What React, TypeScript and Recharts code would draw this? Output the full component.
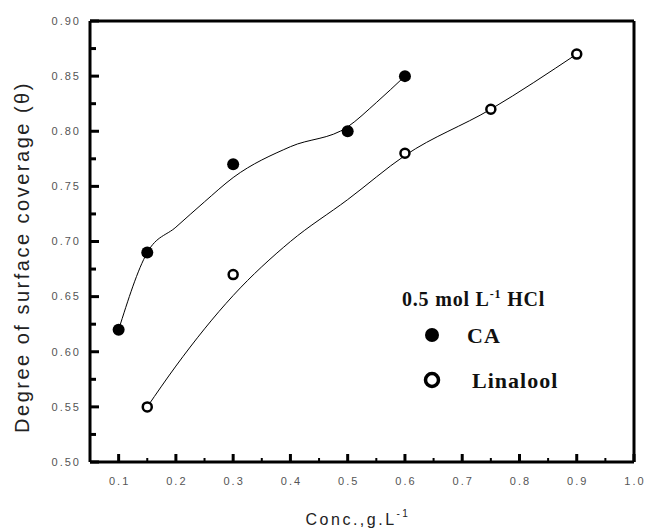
import React from "react";
import {
  ComposedChart,
  Line,
  Scatter,
  XAxis,
  YAxis,
  ReferenceLine,
  Legend
} from "recharts";

// measured points
const caPoints = [
  { x: 0.1, y: 0.62 },
  { x: 0.15, y: 0.69 },
  { x: 0.3, y: 0.77 },
  { x: 0.5, y: 0.8 },
  { x: 0.6, y: 0.85 }
];

const linaloolPoints = [
  { x: 0.15, y: 0.55 },
  { x: 0.3, y: 0.67 },
  { x: 0.6, y: 0.78 },
  { x: 0.75, y: 0.82 },
  { x: 0.9, y: 0.87 }
];

// fitted curves
const caFit = [
  { x: 0.1, y: 0.62 },
  { x: 0.15, y: 0.69 },
  { x: 0.2, y: 0.713 },
  { x: 0.25, y: 0.736 },
  { x: 0.3, y: 0.758 },
  { x: 0.4, y: 0.786 },
  { x: 0.5, y: 0.804 },
  { x: 0.55, y: 0.826 },
  { x: 0.6, y: 0.85 }
];

const linaloolFit = [
  { x: 0.15, y: 0.55 },
  { x: 0.2, y: 0.587 },
  { x: 0.3, y: 0.651 },
  { x: 0.4, y: 0.7 },
  { x: 0.5, y: 0.738 },
  { x: 0.6, y: 0.778 },
  { x: 0.75, y: 0.82 },
  { x: 0.9, y: 0.87 }
];

const xTicks = [0.1, 0.15, 0.2, 0.25, 0.3, 0.35, 0.4, 0.45, 0.5, 0.55, 0.6, 0.65, 0.7, 0.75, 0.8, 0.85, 0.9, 0.95, 1.0];
const yTicks = [0.5, 0.525, 0.55, 0.575, 0.6, 0.625, 0.65, 0.675, 0.7, 0.725, 0.75, 0.775, 0.8, 0.825, 0.85, 0.875, 0.9];

const tickFont = { fontFamily: "Liberation Sans, Arial, sans-serif", fontSize: 11, fill: "#555", letterSpacing: 2 };

// inward ticks, labels only on the major ones
function XTick(props: any) {
  const { x, y, payload } = props;
  const v = payload.value;
  const major = Math.round(v * 100) % 10 === 0;
  return (
    <g>
      <path d={`M${x},${y}V${y - (major ? 8 : 4)}`} style={{ stroke: "#000", strokeWidth: major ? 3 : 2 }} />
      {major && (
        <text x={x + 1} y={y + 23} textAnchor="middle" {...tickFont}>
          {v.toFixed(1)}
        </text>
      )}
    </g>
  );
}

function YTick(props: any) {
  const { x, y, payload } = props;
  const v = payload.value;
  const major = Math.round(v * 1000) % 50 === 0;
  return (
    <g>
      <path d={`M${x},${y}H${x + (major ? 9 : 6)}`} style={{ stroke: "#000", strokeWidth: 3 }} />
      {major && (
        <text x={x - 9} y={y} dy="0.35em" textAnchor="end" {...tickFont}>
          {v.toFixed(2)}
        </text>
      )}
    </g>
  );
}

const FilledDot = (props: any) => <circle cx={props.cx} cy={props.cy} r={6} fill="#000" />;
const OpenDot = (props: any) => (
  <circle cx={props.cx} cy={props.cy} r={4.5} fill="#fff" stroke="#000" strokeWidth={2.5} />
);

function LegendBox() {
  const serif = { fontFamily: "Liberation Serif, Times New Roman, serif", fontWeight: 700, fill: "#111" };
  return (
    <svg width={220} height={120}>
      <text x={7} y={26} fontSize={20} letterSpacing={0.8} {...serif}>
        0.5 mol L<tspan dy={-8} fontSize={12}>-1</tspan>
        <tspan dy={8}> HCl</tspan>
      </text>
      <circle cx={37} cy={55} r={7} fill="#000" />
      <text x={72} y={63} fontSize={22} letterSpacing={1} {...serif}>CA</text>
      <circle cx={37} cy={100} r={6.5} fill="#fff" stroke="#000" strokeWidth={3.5} />
      <text x={77} y={108} fontSize={22} letterSpacing={1} {...serif}>Linalool</text>
    </svg>
  );
}

export default function App() {
  return (
    <div style={{ position: "absolute", left: 0, top: 0, background: "#fff" }}>
      <ComposedChart width={647} height={530} margin={{ top: 21, right: 13, bottom: 0, left: 0 }}>
        <XAxis
          type="number"
          dataKey="x"
          domain={[0.05, 1.0]}
          ticks={xTicks}
          allowDataOverflow
          interval={0}
          height={68}
          tickSize={0}
          tickMargin={0}
          tickLine={false}
          axisLine={{ stroke: "#000", strokeWidth: 3 }}
          tick={<XTick />}
          label={{
            content: () => (
              <text
                x={358}
                y={525}
                textAnchor="middle"
                fontFamily="Liberation Sans, Arial, sans-serif"
                fontSize={16}
                letterSpacing={2.5}
                fill="#222"
              >
                Conc.,g.L<tspan dy={-8} fontSize={10}>-1</tspan>
              </text>
            )
          }}
        />
        <YAxis
          type="number"
          domain={[0.5, 0.9]}
          ticks={yTicks}
          allowDataOverflow
          interval={0}
          width={90}
          tickSize={0}
          tickMargin={0}
          tickLine={false}
          axisLine={{ stroke: "#000", strokeWidth: 3 }}
          tick={<YTick />}
          label={{
            content: () => (
              <text
                x={29}
                y={257}
                transform="rotate(-90 29 257)"
                textAnchor="middle"
                fontFamily="Liberation Sans, Arial, sans-serif"
                fontSize={20}
                letterSpacing={2.5}
                fill="#222"
              >
                Degree of surface coverage (θ)
              </text>
            )
          }}
        />
        <ReferenceLine y={0.9} stroke="#000" strokeWidth={3} />
        <ReferenceLine x={1.0} stroke="#000" strokeWidth={3} />
        <Line
          data={caFit}
          dataKey="y"
          type="monotone"
          stroke="#000"
          strokeWidth={1}
          dot={false}
          activeDot={false}
          isAnimationActive={false}
        />
        <Line
          data={linaloolFit}
          dataKey="y"
          type="monotone"
          stroke="#000"
          strokeWidth={1}
          dot={false}
          activeDot={false}
          isAnimationActive={false}
        />
        <Scatter data={caPoints} dataKey="y" shape={<FilledDot />} isAnimationActive={false} />
        <Scatter data={linaloolPoints} dataKey="y" shape={<OpenDot />} isAnimationActive={false} />
        <Legend
          layout="vertical"
          verticalAlign="middle"
          align="center"
          wrapperStyle={{ left: 395, top: 280, width: 220, height: 120 }}
          content={() => <LegendBox />}
        />
      </ComposedChart>
    </div>
  );
}
